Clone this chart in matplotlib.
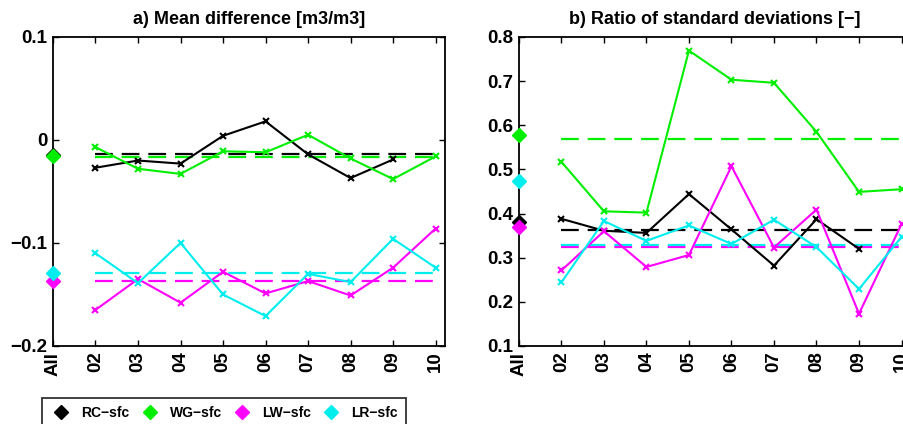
import numpy as np
import matplotlib.pyplot as plt
from matplotlib.lines import Line2D

plt.rcParams['font.family'] = ['Liberation Sans', 'DejaVu Sans']
plt.rcParams['font.weight'] = 'bold'

# station labels, "All" first then the months
labels = ['All', '02', '03', '04', '05', '06', '07', '08', '09', '10']
names = ['RC-sfc', 'WG-sfc', 'LW-sfc', 'LR-sfc']
colors = ['black', '#00ee00', '#ff00ff', '#00eeee']

# a) mean difference (None = no value)
md_rc = [-0.027, -0.020, -0.023, 0.004, 0.018, -0.014, -0.037, -0.019, None]
md_wg = [-0.007, -0.028, -0.033, -0.011, -0.012, 0.005, -0.018, -0.038, -0.016]
md_lw = [-0.165, -0.135, -0.158, -0.128, -0.149, -0.137, -0.151, -0.124, -0.086]
md_lr = [-0.110, -0.139, -0.100, -0.150, -0.171, -0.130, -0.138, -0.096, -0.124]
md_all = [-0.015, -0.016, -0.137, -0.129]
md_mean = [-0.014, -0.017, -0.137, -0.129]

# b) ratio of standard deviations
sd_rc = [0.388, 0.361, 0.356, 0.444, 0.364, 0.282, 0.387, 0.320, None]
sd_wg = [0.517, 0.405, 0.402, 0.769, 0.703, 0.696, 0.585, 0.449, 0.455]
sd_lw = [0.271, 0.360, 0.279, 0.306, 0.507, 0.323, 0.409, 0.173, 0.376]
sd_lr = [0.244, 0.383, 0.338, 0.373, 0.331, 0.386, 0.324, 0.229, 0.347]
sd_all = [0.380, 0.578, 0.370, 0.474]
sd_mean = [0.362, 0.569, 0.325, 0.329]

fig = plt.figure(figsize=(9.04, 4.24), dpi=100)
ax1 = fig.add_axes([0.0586, 0.184, 0.4336, 0.729])
ax2 = fig.add_axes([0.574, 0.184, 0.4336, 0.729])

x = np.arange(1, 10)


def draw(ax, series, alls, means, ylim, yticks, yfmt, title):
    for s, a, m, c in zip(series, alls, means, colors):
        v = np.array([np.nan if e is None else e for e in s], dtype=float)
        ax.plot(x, v, color=c, lw=1.5, marker='x', ms=5, mew=1.5, clip_on=False, zorder=3)
        ax.plot([1, 9], [m, m], color=c, lw=1.6, ls=(0, (8, 4)), zorder=2)
        ax.plot([0], [a], color=c, marker='D', ms=7, ls='none', clip_on=False, zorder=4)
    ax.set_xlim(0, 9.22)
    ax.set_ylim(*ylim)
    ax.set_xticks(range(10))
    ax.set_xticklabels(labels, rotation=90, fontsize=13.5, fontweight='bold')
    ax.set_yticks(yticks)
    ax.set_yticklabels([yfmt(t) for t in yticks], fontsize=13.5, fontweight='bold')
    ax.tick_params(direction='in', top=True, right=True, length=4, width=1, pad=4)
    for sp in ax.spines.values():
        sp.set_linewidth(1.3)
    ax.set_title(title, fontsize=13, fontweight='bold', pad=9)


def fmt_md(t):
    if abs(t) < 1e-9:
        return '0'
    return ('%.1f' % t).replace('-', '\u2212')


draw(ax1, [md_rc, md_wg, md_lw, md_lr], md_all, md_mean, (-0.2, 0.1),
     [-0.2, -0.1, 0.0, 0.1], fmt_md, 'a) Mean difference [m3/m3]')
draw(ax2, [sd_rc, sd_wg, sd_lw, sd_lr], sd_all, sd_mean, (0.1, 0.8),
     [0.1, 0.2, 0.3, 0.4, 0.5, 0.6, 0.7, 0.8], lambda t: '%.1f' % t,
     'b) Ratio of standard deviations [\u2212]')

handles = [Line2D([], [], color=c, marker='D', ls='none', ms=7) for c in colors]
leg = fig.legend(handles, [n.replace('-', '\u2212') for n in names], ncol=4,
                 loc='upper left', bbox_to_anchor=(42 / 904, 1 - 398 / 424),
                 borderaxespad=0, frameon=True, fancybox=False, edgecolor='black',
                 prop={'weight': 'bold', 'size': 10}, handletextpad=0.65,
                 columnspacing=0.65, borderpad=0.6, handlelength=1.6)
leg.get_frame().set_linewidth(1.3)

fig.savefig('out.png', dpi=100)
